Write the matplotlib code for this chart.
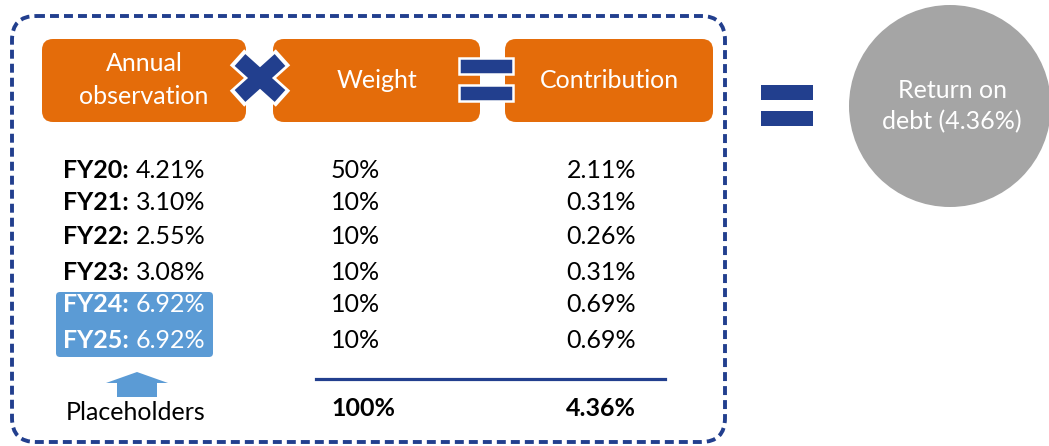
import matplotlib
matplotlib.use("Agg")
import matplotlib.pyplot as plt
from matplotlib.patches import FancyBboxPatch, Rectangle, Circle, Polygon

# data
years = ["FY20", "FY21", "FY22", "FY23", "FY24", "FY25"]
observations = ["4.21%", "3.10%", "2.55%", "3.08%", "6.92%", "6.92%"]
weights = ["50%", "10%", "10%", "10%", "10%", "10%"]
contributions = ["2.11%", "0.31%", "0.26%", "0.31%", "0.69%", "0.69%"]
placeholder_years = ["FY24", "FY25"]
total_weight = "100%"
total_return = "4.36%"
headers = ["Annual\nobservation", "Weight", "Contribution"]
result_label = "Return on\ndebt (4.36%)"

ORANGE = "#E46C0A"
NAVY = "#223F8E"
GREY = "#A5A5A5"
LIGHT = "#5B9BD5"
FS = 18

plt.rcParams['font.family'] = ['Lato', 'DejaVu Sans']

fig = plt.figure(figsize=(10.49, 4.46), dpi=100)
ax = fig.add_axes([0, 0, 1, 1])
ax.set_xlim(0, 1049)
ax.set_ylim(446, 0)
ax.axis('off')

# dashed frame
ax.add_patch(FancyBboxPatch((12, 16), 713, 426,
                            boxstyle="round,pad=0,rounding_size=24",
                            fill=False, ec=NAVY, lw=2.8,
                            linestyle=(0, (2.3, 1.3))))

# header boxes
box_x = [42, 273, 505]
box_w = [204, 207, 208]
for x, w, h in zip(box_x, box_w, headers):
    ax.add_patch(FancyBboxPatch((x, 39), w, 83,
                                boxstyle="round,pad=0,rounding_size=11",
                                fc=ORANGE, ec='none'))
    ax.text(x + w / 2, 80, h, color='white', fontsize=FS,
            ha='center', va='center', linespacing=1.5)

# multiply sign
cx, cy = 260, 78
for col, lw, d in [('white', 15.5, 23), (NAVY, 11.5, 20)]:
    ax.plot([cx - d, cx + d], [cy - d * 0.9, cy + d * 0.9], color=col,
            lw=lw, solid_capstyle='butt')
    ax.plot([cx - d, cx + d], [cy + d * 0.9, cy - d * 0.9], color=col,
            lw=lw, solid_capstyle='butt')

# small equals
for y in (58, 85):
    ax.add_patch(Rectangle((459, y), 54, 16, fc=NAVY, ec='white', lw=1.8))

# big equals
for y in (85, 111):
    ax.add_patch(Rectangle((761, y), 52, 15, fc=NAVY, ec='none'))

# result circle
ax.add_patch(Circle((950, 106), 101, fc=GREY, ec='none'))
ax.text(952, 106, result_label, color='white', fontsize=FS, ha='center',
        va='center', linespacing=1.45)

# placeholder highlight
ax.add_patch(FancyBboxPatch((56, 292), 157, 65,
                            boxstyle="round,pad=0,rounding_size=4",
                            fc=LIGHT, ec='none'))

row_y = [170, 203, 237, 272, 305, 340]
for yr, obs, w, c, y in zip(years, observations, weights, contributions, row_y):
    col = 'white' if yr in placeholder_years else 'black'
    ax.text(63, y, yr + ":", fontsize=FS, fontweight='bold', color=col,
            ha='left', va='center')
    ax.text(136, y, obs, fontsize=FS, color=col, ha='left', va='center')
    ax.text(331, y, w, fontsize=FS, color='black', ha='left', va='center')
    ax.text(636, y, c, fontsize=FS, color='black', ha='right', va='center')

# arrow to placeholders
ax.add_patch(Polygon([(117, 397), (117, 383), (106, 383), (137, 372),
                      (168, 383), (157, 383), (157, 397)],
                     closed=True, fc=LIGHT, ec='none'))
ax.text(136, 413, "Placeholders", fontsize=FS, ha='center', va='center')

# total line and totals
ax.plot([316, 665], [379, 379], color=NAVY, lw=2.3)
ax.text(331, 408, total_weight, fontsize=FS, fontweight='bold',
        ha='left', va='center')
ax.text(636, 408, total_return, fontsize=FS, fontweight='bold',
        ha='right', va='center')

fig.savefig("out.png", dpi=100)
